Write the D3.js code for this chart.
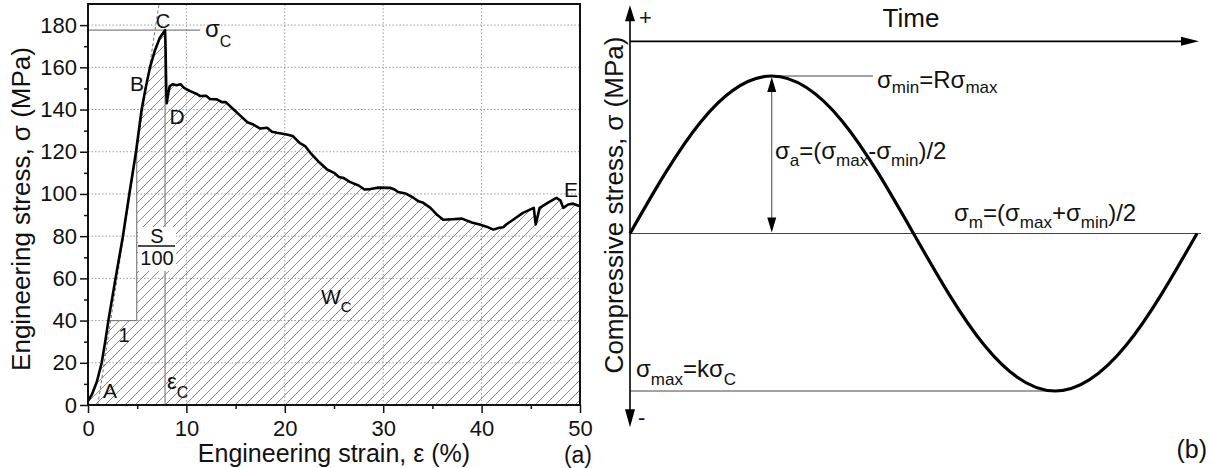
<!DOCTYPE html>
<html>
<head>
<meta charset="utf-8">
<script src="https://cdn.jsdelivr.net/npm/d3@7"></script>
<style>
body { margin: 0; background: #fff; }
text { font-family: "Liberation Sans", Arial, sans-serif; fill: #111; }
</style>
</head>
<body>
<svg width="1212" height="468"></svg>
<script>
// (a) compression curve
var strain = [0, 0.4, 0.9, 1.39, 1.75, 2.07, 2.8, 3.55, 4.2, 4.88, 5.45, 5.85, 6.3, 6.8, 7.3, 7.83,
    7.88, 7.95, 8.0, 8.1, 8.3, 8.6, 9.0, 9.4, 9.7, 10.0, 10.5, 11.0, 11.4, 12.0, 12.4, 13.1, 13.6, 14.0,
    14.8, 15.5, 16.2, 16.8, 17.5, 18.2, 18.7, 19.2, 20.2, 20.8, 21.5, 22.1, 22.6, 23.5, 24.3, 25.0, 25.5,
    26.0, 26.6, 27.5, 28.1, 28.7, 29.5, 30.7, 31.2, 31.5, 32.3, 33.1, 33.6, 34.0, 34.8, 35.5, 36.1, 37.0,
    38.0, 39.0, 39.8, 40.5, 41.2, 41.8, 42.2, 42.5, 43.2, 44.2, 45.3, 45.5, 45.9, 46.8, 47.6, 48.0, 48.3,
    48.8, 49.3, 50.0];
var stress = [2, 5, 11, 20, 30, 40, 60, 80, 100, 120, 140, 150, 160, 168, 174, 177.6,
    170, 150, 143, 146, 151, 152, 151.5, 152, 150.5, 149.6, 148.5, 147.5, 146.4, 146.5, 145, 144.8, 143.5, 143.5,
    140, 137, 134, 132.9, 131, 131.4, 129.5, 129, 128.2, 127.5, 124.2, 122.5, 119.5, 115, 111.6, 110, 108,
    107.5, 105.7, 104, 102.1, 102.3, 103, 102.9, 102, 100.9, 100.2, 98.1, 96.5, 96, 93.4, 90, 87.8, 88,
    88.3, 86.5, 85.5, 84.5, 83.1, 84, 84.2, 85.5, 87.8, 91,
    93.4, 85.5, 93.4, 96, 98.1, 97, 93.4, 95, 95.4, 94.2];

var xTicks = [0, 10, 20, 30, 40, 50];
var xMinor = [5, 15, 25, 35, 45];
var yTicks = [0, 20, 40, 60, 80, 100, 120, 140, 160, 180];
var yMinor = [10, 30, 50, 70, 90, 110, 130, 150, 170];

// critical point C, slope triangle and tangent line
var sigmaC = 177.6, epsC = 7.83;
var slopeFrom = 2.07, slopeTo = 4.95, slopeLevel = 40;
var tangent = [[1.0, 0], [7.22, 190]];

// (b) loading cycle, one period (normalised)
var waveTime = [0, 0.125, 0.25, 0.375, 0.5, 0.625, 0.75, 0.875, 1];
var waveStress = [0, 0.71, 1, 0.71, 0, -0.71, -1, -0.71, 0];

var svg = d3.select("svg");
svg.append("rect").attr("width", 1212).attr("height", 468).attr("fill", "#fff");

// rich text with subscripts
function rich(sel, x, y, parts, size, subSize, shift, anchor) {
    var t = sel.append("text").attr("x", x).attr("y", y).attr("font-size", size)
        .attr("text-anchor", anchor || "start");
    var prev = false;
    parts.forEach(function(p) {
        var isSub = typeof p !== "string";
        var ts = t.append("tspan").text(isSub ? p[0] : p);
        if (isSub) ts.attr("font-size", subSize);
        if (isSub !== prev) ts.attr("dy", isSub ? shift : -shift);
        prev = isSub;
    });
    return t;
}

// ---------------- panel (a) ----------------
var x = d3.scaleLinear().domain([0, 50]).range([88, 580]);
var y = d3.scaleLinear().domain([0, 190]).range([405, 4]);
var pts = strain.map(function(s, i) { return [s, stress[i]]; });

svg.append("defs").append("pattern").attr("id", "hatch")
    .attr("patternUnits", "userSpaceOnUse").attr("width", 10).attr("height", 10)
    .append("path").attr("d", "M-1,1 L1,-1 M0,10 L10,0 M9,11 L11,9")
    .attr("stroke", "#7a7a7a").attr("stroke-width", 0.9);

var ga = svg.append("g");
ga.append("path").attr("fill", "url(#hatch)")
    .attr("d", d3.area().x(d => x(d[0])).y0(y(0)).y1(d => y(d[1]))(pts));

// white slope triangle S/100 : 1
var peakIdx = stress.indexOf(sigmaC);
var rise = pts.slice(0, peakIdx + 1);
function riseAt(s) {
    var i = d3.bisector(d => d[0]).left(rise, s);
    if (i <= 0) return rise[0][1];
    var a = rise[i - 1], b = rise[i];
    return a[1] + (b[1] - a[1]) * (s - a[0]) / (b[0] - a[0]);
}
var tri = [[slopeFrom, slopeLevel]]
    .concat(rise.filter(d => d[0] > slopeFrom && d[0] < slopeTo))
    .concat([[slopeTo, riseAt(slopeTo)], [slopeTo, slopeLevel]]);
ga.append("path").attr("fill", "#fff")
    .attr("d", d3.line().x(d => x(d[0])).y(d => y(d[1]))(tri) + "Z");

// grid
ga.selectAll(".gy").data(yTicks.slice(1)).enter().append("line")
    .attr("x1", x(0)).attr("x2", x(50)).attr("y1", d => y(d)).attr("y2", d => y(d))
    .attr("stroke", "#9a9a9a").attr("stroke-dasharray", "1.5,2");
ga.selectAll(".gx").data(xTicks.slice(1, -1)).enter().append("line")
    .attr("y1", y(0)).attr("y2", y(190)).attr("x1", d => x(d)).attr("x2", d => x(d))
    .attr("stroke", "#9a9a9a").attr("stroke-dasharray", "1.5,2");

// guide lines
var guide = "#808080";
ga.append("line").attr("x1", x(0)).attr("x2", x(11.4)).attr("y1", y(sigmaC)).attr("y2", y(sigmaC))
    .attr("stroke", guide).attr("stroke-width", 1.2);
ga.append("line").attr("x1", x(epsC)).attr("x2", x(epsC)).attr("y1", y(0)).attr("y2", y(sigmaC))
    .attr("stroke", guide).attr("stroke-width", 1.2);
ga.append("line").attr("x1", x(slopeFrom)).attr("x2", x(slopeTo)).attr("y1", y(slopeLevel)).attr("y2", y(slopeLevel))
    .attr("stroke", guide).attr("stroke-width", 1.2);
ga.append("line").attr("x1", x(slopeTo)).attr("x2", x(slopeTo)).attr("y1", y(slopeLevel)).attr("y2", y(riseAt(slopeTo)))
    .attr("stroke", guide).attr("stroke-width", 1.2);
ga.append("line").attr("x1", x(tangent[0][0])).attr("y1", y(tangent[0][1]))
    .attr("x2", x(tangent[1][0])).attr("y2", y(tangent[1][1]))
    .attr("stroke", "#666").attr("stroke-width", 0.9).attr("stroke-dasharray", "3,2.5");

// white box behind S/100
ga.append("rect").attr("x", 138).attr("y", 227).attr("width", 38).attr("height", 44).attr("fill", "#fff");

// curve
ga.append("path").attr("fill", "none").attr("stroke", "#000").attr("stroke-width", 2.6)
    .attr("stroke-linejoin", "round")
    .attr("d", d3.line().x(d => x(d[0])).y(d => y(d[1]))(pts));

// axes
function styleAxis(g) {
    g.attr("font-family", "Liberation Sans, Arial, sans-serif").attr("font-size", 22);
    g.select(".domain").remove();
    g.selectAll("line").attr("stroke", "#111").attr("stroke-width", 1.5);
    g.selectAll("text").attr("fill", "#111");
}
ga.append("g").attr("transform", "translate(0," + y(0) + ")")
    .call(d3.axisBottom(x).tickValues(xTicks).tickSize(8).tickPadding(7)).call(styleAxis);
ga.append("g").attr("transform", "translate(0," + y(0) + ")")
    .call(d3.axisBottom(x).tickValues(xMinor).tickSize(4).tickFormat("")).call(styleAxis);
ga.append("g").attr("transform", "translate(" + x(0) + ",0)")
    .call(d3.axisLeft(y).tickValues(yTicks).tickSize(8).tickPadding(3)).call(styleAxis);
ga.append("g").attr("transform", "translate(" + x(0) + ",0)")
    .call(d3.axisLeft(y).tickValues(yMinor).tickSize(4).tickFormat("")).call(styleAxis);
ga.append("rect").attr("x", x(0)).attr("y", y(190)).attr("width", x(50) - x(0)).attr("height", y(0) - y(190))
    .attr("fill", "none").attr("stroke", "#111").attr("stroke-width", 2);

// titles
ga.append("text").attr("x", 334).attr("y", 462).attr("text-anchor", "middle").attr("font-size", 25)
    .text("Engineering strain, \u03b5 (%)");
ga.append("text").attr("transform", "translate(30,209) rotate(-90)").attr("text-anchor", "middle")
    .attr("font-size", 26).text("Engineering stress, \u03c3 (MPa)");
ga.append("text").attr("x", 592).attr("y", 463).attr("text-anchor", "end").attr("font-size", 23).text("(a)");

// point labels
ga.append("text").attr("x", 163).attr("y", 28).attr("text-anchor", "middle").attr("font-size", 20).text("C");
rich(ga, 205, 37, ["\u03c3", ["C"]], 24, 16, 10);
ga.append("text").attr("x", 137).attr("y", 91).attr("text-anchor", "middle").attr("font-size", 21).text("B");
ga.append("text").attr("x", 177).attr("y", 124).attr("text-anchor", "middle").attr("font-size", 21).text("D");
ga.append("text").attr("x", 110).attr("y", 398).attr("text-anchor", "middle").attr("font-size", 21).text("A");
ga.append("text").attr("x", 571).attr("y", 197).attr("text-anchor", "middle").attr("font-size", 21).text("E");
ga.append("text").attr("x", 124).attr("y", 342).attr("text-anchor", "middle").attr("font-size", 20).text("1");
ga.append("text").attr("x", 157).attr("y", 243).attr("text-anchor", "middle").attr("font-size", 20).text("S");
ga.append("line").attr("x1", 138).attr("x2", 175).attr("y1", 246).attr("y2", 246).attr("stroke", "#111").attr("stroke-width", 1.5);
ga.append("text").attr("x", 157).attr("y", 265).attr("text-anchor", "middle").attr("font-size", 20).text("100");
rich(ga, 167, 389, ["\u03b5", ["C"]], 22, 16, 9);
rich(ga, 321, 304, ["W", ["C"]], 21, 15, 8);

// ---------------- panel (b) ----------------
var tx = d3.scaleLinear().domain([0, 1]).range([630, 1197]);
var ty = d3.scaleLinear().domain([-1, 1]).range([391, 76]);
var axisTop = 1.45, axisBottom = -1.23, timeLevel = 1.22;
var gb = svg.append("g");
var thin = "#444";

// reference levels
gb.append("line").attr("x1", tx(0)).attr("x2", tx(1) + 4).attr("y1", ty(0)).attr("y2", ty(0))
    .attr("stroke", thin).attr("stroke-width", 1);
gb.append("line").attr("x1", tx(0.25)).attr("x2", 873).attr("y1", ty(1)).attr("y2", ty(1))
    .attr("stroke", thin).attr("stroke-width", 1);
gb.append("line").attr("x1", tx(0)).attr("x2", tx(0.75)).attr("y1", ty(-1)).attr("y2", ty(-1))
    .attr("stroke", thin).attr("stroke-width", 1);

// amplitude double arrow
var ax = tx(0.25);
gb.append("line").attr("x1", ax).attr("x2", ax).attr("y1", ty(1) + 12).attr("y2", ty(0) - 12)
    .attr("stroke", thin).attr("stroke-width", 1);
gb.append("path").attr("fill", "#000")
    .attr("d", "M" + ax + "," + (ty(1) + 1) + " l-4.5,15 h9 Z M" + ax + "," + (ty(0) - 1) + " l-4.5,-15 h9 Z");

// stress axis (both directions) and time axis
var ox = tx(0);
gb.append("line").attr("x1", ox).attr("x2", ox).attr("y1", ty(axisTop) + 12).attr("y2", ty(axisBottom) - 15)
    .attr("stroke", "#000").attr("stroke-width", 1.6);
gb.append("path").attr("fill", "#000")
    .attr("d", "M" + ox + "," + ty(axisTop) + " l-5,16 h10 Z M" + ox + "," + ty(axisBottom) + " l-5,-18 h10 Z");
gb.append("line").attr("x1", ox).attr("x2", tx(1) - 14).attr("y1", ty(timeLevel)).attr("y2", ty(timeLevel))
    .attr("stroke", "#000").attr("stroke-width", 1.6);
gb.append("path").attr("fill", "#000")
    .attr("d", "M" + (tx(1) + 2) + "," + ty(timeLevel) + " l-18,-4.5 v9 Z");

// wave
gb.append("path").attr("fill", "none").attr("stroke", "#000").attr("stroke-width", 3.2)
    .attr("d", d3.line().curve(d3.curveNatural).x((d, i) => tx(d)).y((d, i) => ty(waveStress[i]))(waveTime));

// labels
gb.append("text").attr("x", 911).attr("y", 27).attr("text-anchor", "middle").attr("font-size", 26).text("Time");
gb.append("text").attr("x", 639).attr("y", 25).attr("font-size", 22).text("+");
gb.append("text").attr("x", 638).attr("y", 425).attr("font-size", 22).text("-");
gb.append("text").attr("transform", "translate(623,205) rotate(-90)").attr("text-anchor", "middle")
    .attr("font-size", 26).text("Compressive stress, \u03c3 (MPa)");
gb.append("text").attr("x", 1207).attr("y", 458).attr("text-anchor", "end").attr("font-size", 25).text("(b)");
rich(gb, 877, 88, ["\u03c3", ["min"], "=R\u03c3", ["max"]], 24, 17, 5);
rich(gb, 775, 159, ["\u03c3", ["a"], "=(\u03c3", ["max"], "-\u03c3", ["min"], ")/2"], 24, 17, 7);
rich(gb, 954, 221, ["\u03c3", ["m"], "=(\u03c3", ["max"], "+\u03c3", ["min"], ")/2"], 24, 17, 7);
rich(gb, 636, 377, ["\u03c3", ["max"], "=k\u03c3", ["C"]], 24, 17, 8);
</script>
</body>
</html>
